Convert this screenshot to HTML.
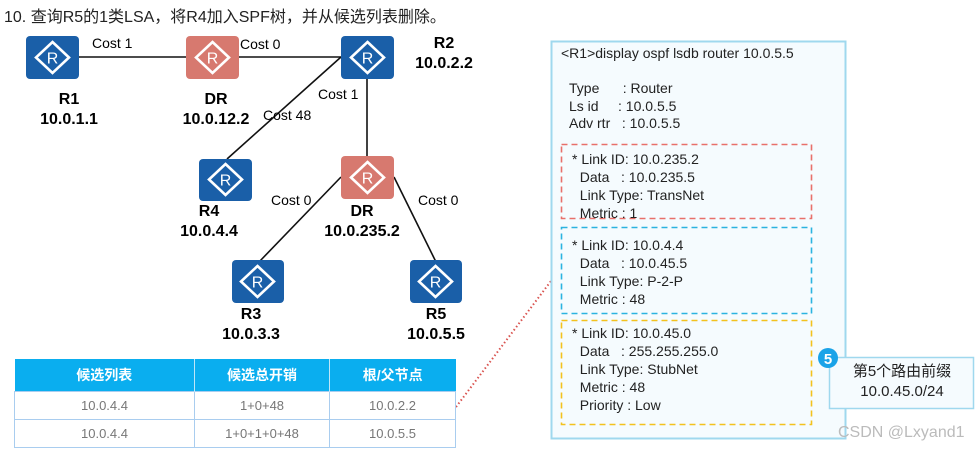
<!DOCTYPE html>
<html><head><meta charset="utf-8"><style>
body{margin:0;width:979px;height:452px;background:#fff;overflow:hidden;position:relative;font-family:"Liberation Sans","Noto Sans CJK SC",sans-serif;}
.a{position:absolute;white-space:nowrap}
.t{position:absolute;left:0;top:0}
td{padding:0}
</style></head><body>
<svg class="t" width="979" height="452" xmlns="http://www.w3.org/2000/svg">
<defs>
<g id="ic"><polygon points="26.5,6 43,21.5 26.5,37 10,21.5" fill="none" stroke="#fff" stroke-width="2.6"/><text x="26.5" y="27.5" font-family="Liberation Sans" font-size="16" fill="#fff" text-anchor="middle">R</text></g>
</defs>
<g stroke="#111" stroke-width="1.6">
<line x1="79" y1="57" x2="186" y2="57"/><line x1="239" y1="57" x2="341" y2="57"/>
<line x1="341" y1="57" x2="227" y2="159"/><line x1="367" y1="79" x2="367" y2="156"/>
<line x1="341" y1="177" x2="259" y2="262"/><line x1="394" y1="177" x2="436" y2="262"/>
</g>
<rect x="26" y="36" width="53" height="43" rx="4" fill="#1a5fa8"/><use href="#ic" x="26" y="36"/>
<rect x="186" y="36" width="53" height="43" rx="4" fill="#d7796f"/><use href="#ic" x="186" y="36"/>
<rect x="341" y="36" width="53" height="43" rx="4" fill="#1a5fa8"/><use href="#ic" x="341" y="36"/>
<rect x="199" y="159" width="53" height="42" rx="4" fill="#1a5fa8"/><use href="#ic" x="199" y="158"/>
<rect x="341" y="156" width="53" height="43" rx="4" fill="#d7796f"/><use href="#ic" x="341" y="156"/>
<rect x="232" y="260" width="52" height="43" rx="4" fill="#1a5fa8"/><use href="#ic" x="231" y="260"/>
<rect x="410" y="260" width="52" height="43" rx="4" fill="#1a5fa8"/><use href="#ic" x="409" y="260"/>
<line x1="456" y1="407" x2="551" y2="281" stroke="#d9534f" stroke-width="2" stroke-dasharray="1.5,2.5"/>
<rect x="551.5" y="41.5" width="294" height="397" fill="#f5fbfe" stroke="#9fd8ee" stroke-width="2"/>
<rect x="561.5" y="144.5" width="250" height="74" fill="none" stroke="#e8706a" stroke-width="1.6" stroke-dasharray="6,4"/>
<rect x="561.5" y="227.5" width="250" height="86" fill="none" stroke="#2bb3e0" stroke-width="1.6" stroke-dasharray="6,4"/>
<rect x="561.5" y="320.5" width="250" height="104" fill="none" stroke="#f3c21e" stroke-width="1.6" stroke-dasharray="6,4"/>
<rect x="829.5" y="357.5" width="144" height="51" fill="#f5fbfe" stroke="#9fd8ee" stroke-width="1.5"/>
<circle cx="828" cy="358" r="10" fill="#1aa3e8"/>
<text x="828" y="364" font-family="Liberation Sans" font-weight="bold" font-size="15" fill="#fff" text-anchor="middle">5</text>
</svg>
<div class="a" style="left:4px;top:3px;font-size:16px;color:#222">10.&nbsp;查询R5的1类LSA，将R4加入SPF树，并从候选列表删除。</div>
<div class="a" style="left:92px;top:35px;font-size:14px">Cost 1</div>
<div class="a" style="left:240px;top:36px;font-size:14px">Cost 0</div>
<div class="a" style="left:318px;top:86px;font-size:14px">Cost 1</div>
<div class="a" style="left:263px;top:107px;font-size:14px">Cost 48</div>
<div class="a" style="left:271px;top:192px;font-size:14px">Cost 0</div>
<div class="a" style="left:418px;top:192px;font-size:14px">Cost 0</div>
<div class="a" style="left:19px;width:100px;top:90px;font-size:16px;font-weight:bold;text-align:center;line-height:20px">R1<br>10.0.1.1</div>
<div class="a" style="left:166px;width:100px;top:90px;font-size:16px;font-weight:bold;text-align:center;line-height:20px">DR<br>10.0.12.2</div>
<div class="a" style="left:394px;width:100px;top:34px;font-size:16px;font-weight:bold;text-align:center;line-height:20px">R2<br>10.0.2.2</div>
<div class="a" style="left:159px;width:100px;top:202px;font-size:16px;font-weight:bold;text-align:center;line-height:20px">R4<br>10.0.4.4</div>
<div class="a" style="left:312px;width:100px;top:202px;font-size:16px;font-weight:bold;text-align:center;line-height:20px">DR<br>10.0.235.2</div>
<div class="a" style="left:201px;width:100px;top:305px;font-size:16px;font-weight:bold;text-align:center;line-height:20px">R3<br>10.0.3.3</div>
<div class="a" style="left:386px;width:100px;top:305px;font-size:16px;font-weight:bold;text-align:center;line-height:20px">R5<br>10.0.5.5</div>
<table class="a" style="left:14px;top:359px;width:441px;table-layout:fixed;border-collapse:collapse;font-size:13px;color:#777;text-align:center">
<colgroup><col style="width:180px"><col style="width:135px"><col style="width:126px"></colgroup>
<tr style="background:#0aaeef;color:#fff;font-weight:bold;height:32px;font-size:14px"><td style="border-right:1px solid #bfe6f8">候选列表</td><td style="border-right:1px solid #bfe6f8">候选总开销</td><td>根/父节点</td></tr>
<tr style="height:28px"><td style="border:1px solid #a9cdef">10.0.4.4</td><td style="border:1px solid #a9cdef">1+0+48</td><td style="border:1px solid #a9cdef">10.0.2.2</td></tr>
<tr style="height:28px"><td style="border:1px solid #a9cdef">10.0.4.4</td><td style="border:1px solid #a9cdef">1+0+1+0+48</td><td style="border:1px solid #a9cdef">10.0.5.5</td></tr>
</table>
<div class="a" style="left:561px;top:45px;font-size:14px;color:#222">&lt;R1&gt;display ospf lsdb router 10.0.5.5</div>
<div class="a" style="left:569px;top:80px;font-size:14px;line-height:17.5px;color:#222">Type &nbsp; &nbsp; &nbsp;: Router<br>Ls id &nbsp; &nbsp; : 10.0.5.5<br>Adv rtr &nbsp; : 10.0.5.5</div>
<div class="a" style="left:572px;top:150px;font-size:14px;line-height:18px;color:#222">* Link ID: 10.0.235.2<br>&nbsp; Data &nbsp; : 10.0.235.5<br>&nbsp; Link Type: TransNet<br>&nbsp; Metric : 1</div>
<div class="a" style="left:572px;top:236px;font-size:14px;line-height:18px;color:#222">* Link ID: 10.0.4.4<br>&nbsp; Data &nbsp; : 10.0.45.5<br>&nbsp; Link Type: P-2-P<br>&nbsp; Metric : 48</div>
<div class="a" style="left:572px;top:324px;font-size:14px;line-height:18px;color:#222">* Link ID: 10.0.45.0<br>&nbsp; Data &nbsp; : 255.255.255.0<br>&nbsp; Link Type: StubNet<br>&nbsp; Metric : 48<br>&nbsp; Priority : Low</div>
<div class="a" style="left:830px;width:144px;top:362px;font-size:15px;line-height:20px;text-align:center;color:#222">第5个路由前缀<br>10.0.45.0/24</div>
<div class="a" style="left:838px;top:424px;font-size:16px;color:#bbb">CSDN @Lxyand1</div>
</body></html>
